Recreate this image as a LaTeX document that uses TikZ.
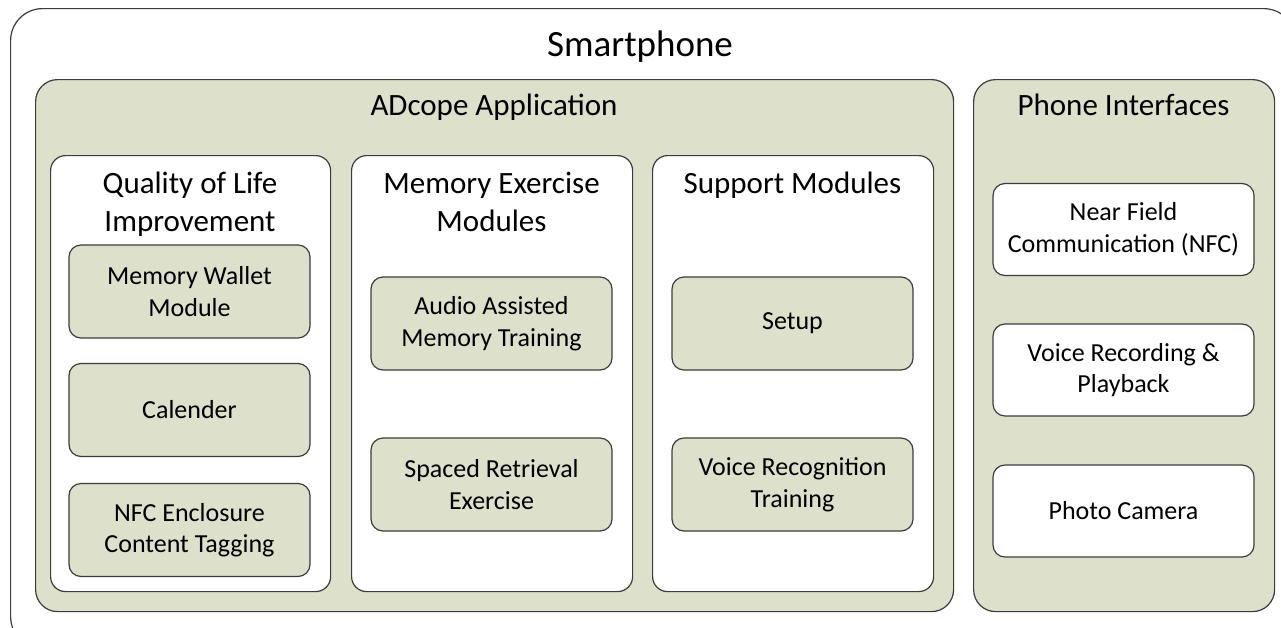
\documentclass[tikz,border=0pt]{standalone}
\usepackage{fontspec}
\setmainfont{Carlito}
\definecolor{boxgreen}{RGB}{221,224,203}
\definecolor{edge}{RGB}{60,60,60}
\begin{document}
\begin{tikzpicture}[x=1pt,y=-1pt,
  frame/.style={draw=edge, line width=1.2pt, anchor=north west, inner sep=0pt},
  outerbox/.style={frame, fill=white, rounded corners=32pt},
  groupbox/.style={frame, fill=boxgreen, rounded corners=22pt},
  colbox/.style={frame, fill=white, rounded corners=15pt},
  item/.style={draw=edge, line width=1.2pt, inner sep=0pt, rounded corners=12pt,
    minimum width=241pt, minimum height=93pt, align=center,
    font=\fontsize{26}{31.5}\selectfont},
  greenitem/.style={item, fill=boxgreen},
  whiteitem/.style={item, fill=white, minimum width=261pt, minimum height=92pt},
  heading/.style={anchor=base, inner sep=0pt, align=center,
    font=\fontsize{31}{37.8}\selectfont},
  title/.style={anchor=base, inner sep=0pt, font=\fontsize{37}{45}\selectfont}
]
\useasboundingbox (0,0) rectangle (1281,627);
\begin{scope}
  \clip (0,0) rectangle (1281,627);
  \node[outerbox, minimum width=1285pt, minimum height=640pt] (phone) at (10,8) {};
\end{scope}
\node[title] (phonetitle) at (640,56) {Smartphone};

% ADcope application
\node[groupbox, minimum width=918pt, minimum height=532pt] (app) at (35,79) {};
\node[heading] (apptitle) at (494,115) {ADcope Application};

% Phone interfaces
\node[groupbox, minimum width=301pt, minimum height=532pt] (ifaces) at (973,79) {};
\node[heading] (ifacetitle) at (1123.5,115) {Phone Interfaces};

% Columns (two-line headings: base anchor sits on the last line)
\node[colbox, minimum width=280pt, minimum height=436pt] (qol) at (50,155) {};
\node[heading] (qoltitle) at (190,231) {Quality of Life\\Improvement};
\node[colbox, minimum width=281pt, minimum height=436pt] (mem) at (351,155) {};
\node[heading] (memtitle) at (491.5,231) {Memory Exercise\\Modules};
\node[colbox, minimum width=281pt, minimum height=436pt] (sup) at (652,155) {};
\node[heading] (suptitle) at (792.5,193) {Support Modules};

% Quality of life items
\node[greenitem] (wallet) at (189.5,291.5) {Memory Wallet\\Module};
\node[greenitem] (calendar) at (189.5,410) {Calender};
\node[greenitem] (nfctag) at (189.5,530) {NFC Enclosure\\Content Tagging};

% Memory exercise items
\node[greenitem] (audio) at (491.5,323.5) {Audio Assisted\\Memory Training};
\node[greenitem] (spaced) at (491.5,484.5) {Spaced Retrieval\\Exercise};

% Support items
\node[greenitem] (setup) at (792.5,323.5) {Setup};
\node[greenitem] (voicetrain) at (792.5,484.5) {Voice Recognition\\Training};

% Phone interface items
\node[whiteitem] (nfc) at (1123.5,229.5) {Near Field\\Communication (NFC)};
\node[whiteitem] (voicerec) at (1123.5,370) {Voice Recording \&\\Playback};
\node[whiteitem] (camera) at (1123.5,511) {Photo Camera};
\end{tikzpicture}
\end{document}
